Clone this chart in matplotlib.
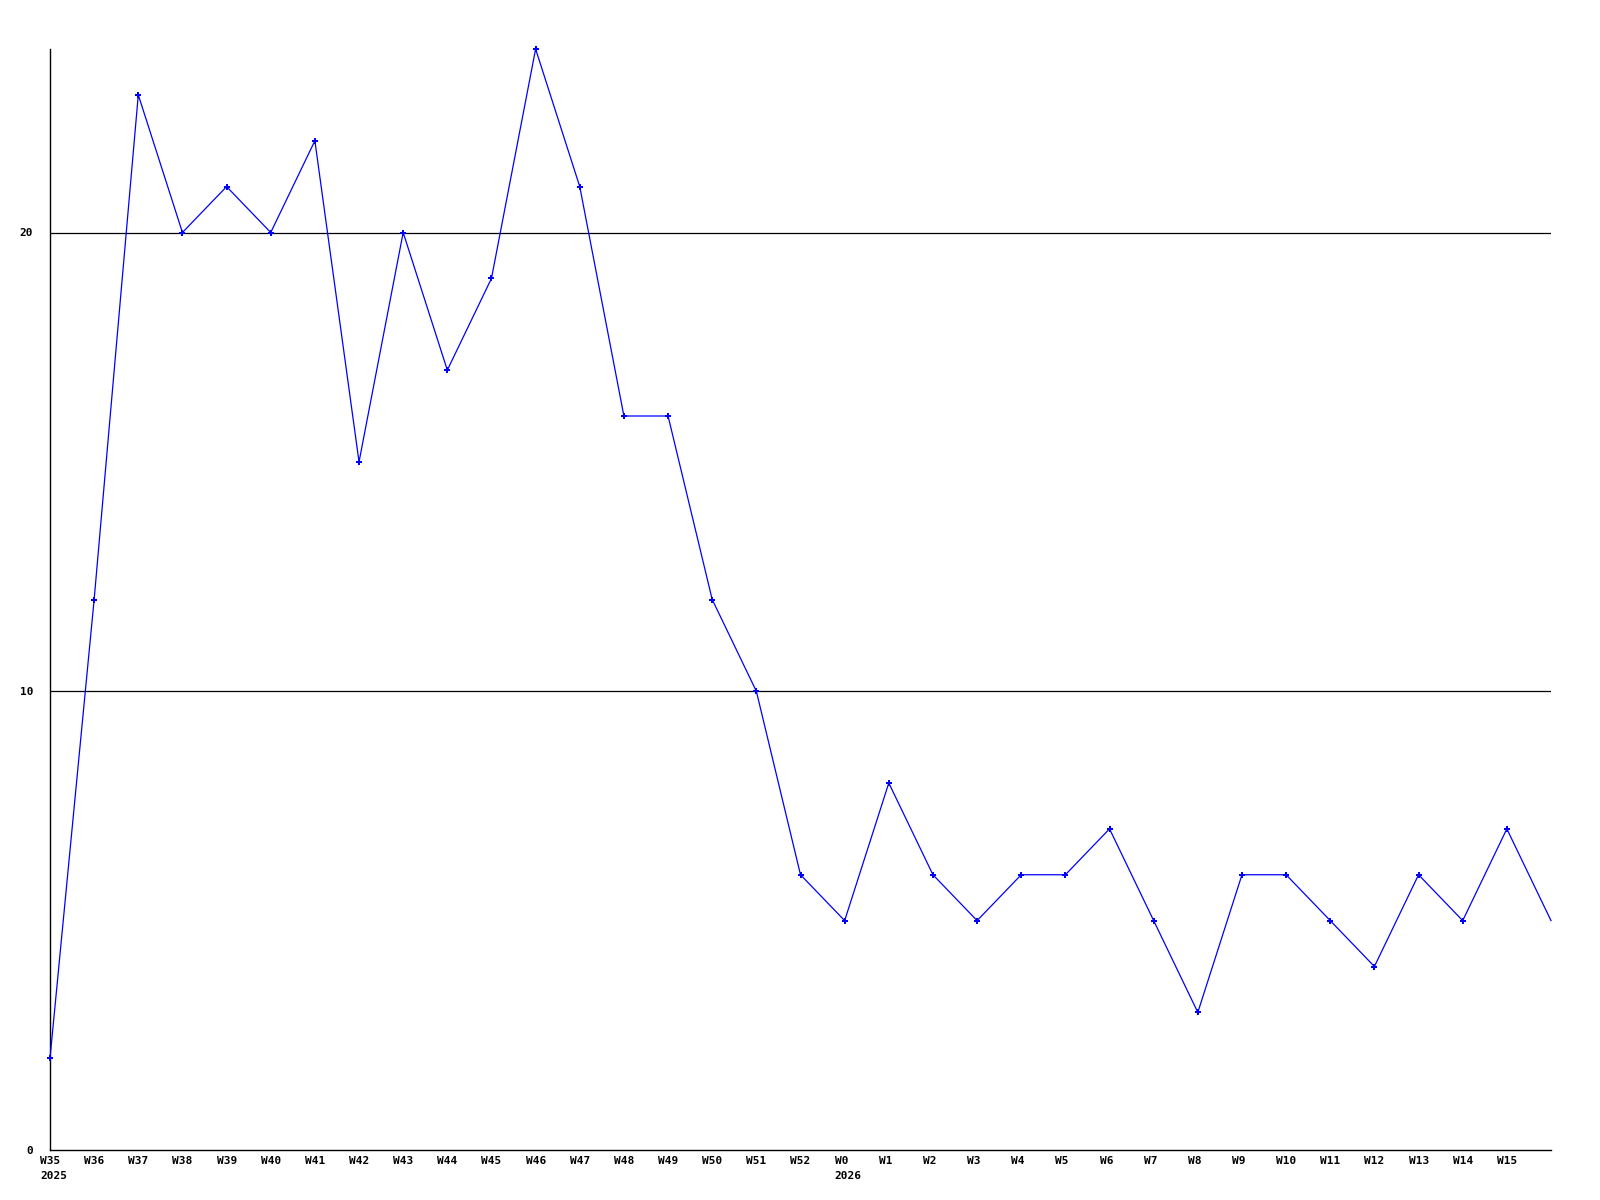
import matplotlib
matplotlib.use("Agg")
import matplotlib.pyplot as plt

# ---- данные ----
weeks = ["W35", "W36", "W37", "W38", "W39", "W40", "W41", "W42", "W43", "W44",
         "W45", "W46", "W47", "W48", "W49", "W50", "W51", "W52", "W0", "W1",
         "W2", "W3", "W4", "W5", "W6", "W7", "W8", "W9", "W10", "W11",
         "W12", "W13", "W14", "W15", "W16"]
values = [2, 12, 23, 20, 21, 20, 22, 15, 20, 17,
          19, 24, 21, 16, 16, 12, 10, 6, 5, 8,
          6, 5, 6, 6, 7, 5, 3, 6, 6, 5,
          4, 6, 5, 7, 5]
year_marks = {"W35": "2025", "W0": "2026"}
y_ticks = [0, 10, 20]

plt.rcParams["font.family"] = ["DejaVu Sans Mono"]
plt.rcParams["font.weight"] = "bold"
FS = 8

fig = plt.figure(figsize=(16, 12), dpi=100)
ax = fig.add_axes([50 / 1600, 1 - 1150 / 1200, 1501 / 1600, 1101 / 1200])

x = list(range(len(values)))
# последняя точка — без маркера (неполная неделя)
ax.plot(x, values, color="#0000ff", lw=0.9, marker="P", ms=4.5, mew=0,
        markevery=list(range(len(values) - 1)), zorder=3, clip_on=False)

for y in y_ticks[1:]:
    ax.axhline(y, color="black", lw=0.9, zorder=1)

ax.set_xlim(0, len(values) - 1)
ax.set_ylim(0, 24)

# подписи недель — по левому краю, на 10 px левее отметки; год второй строкой
ax.set_xticks([])
dx = -10 * 0.72
for i, w in enumerate(weeks[:-1]):
    ax.annotate(w, xy=(i, 0), xycoords=("data", "axes fraction"),
                xytext=(dx, -4.5), textcoords="offset points",
                ha="left", va="top", fontsize=FS, fontweight="bold")
    if w in year_marks:
        ax.annotate(year_marks[w], xy=(i, 0), xycoords=("data", "axes fraction"),
                    xytext=(dx, -15), textcoords="offset points",
                    ha="left", va="top", fontsize=FS, fontweight="bold")
ax.set_yticks(y_ticks)
ax.set_yticklabels([str(v) for v in y_ticks], fontsize=FS, fontweight="bold")
ax.tick_params(axis="y", length=0, pad=12)

for s in ("top", "right"):
    ax.spines[s].set_visible(False)
for s in ("left", "bottom"):
    ax.spines[s].set_linewidth(1.0)
    ax.spines[s].set_color("black")

fig.savefig("out.png", dpi=100, facecolor="white")
